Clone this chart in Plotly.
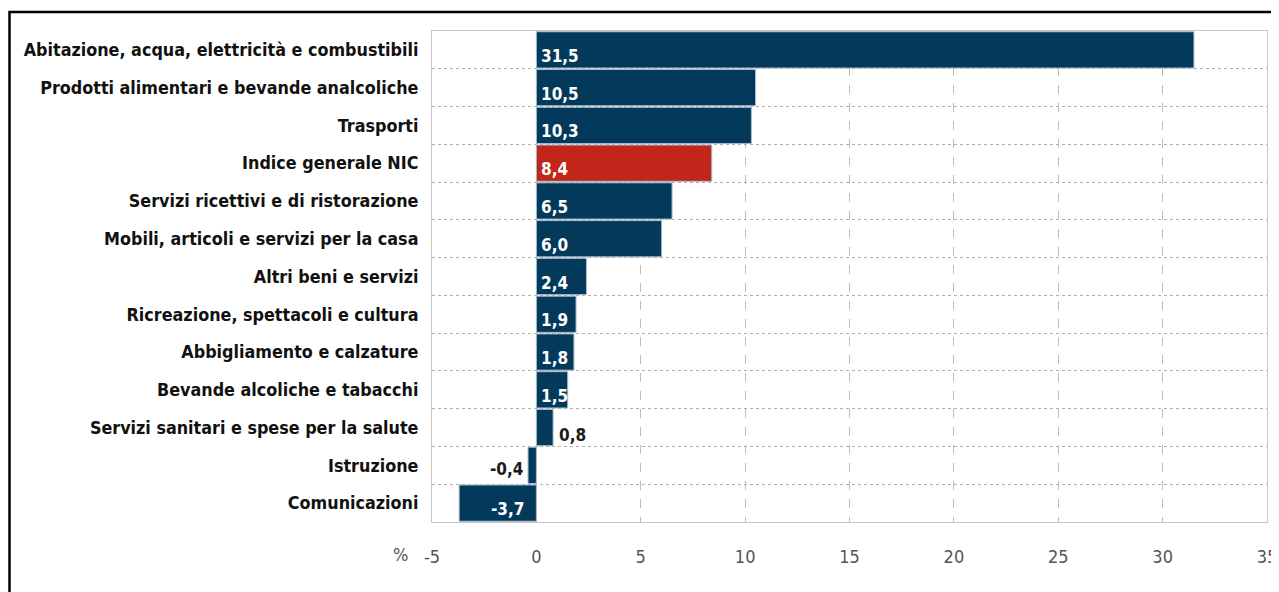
import plotly.graph_objects as go

categories = [
    "Abitazione, acqua, elettricità e combustibili",
    "Prodotti alimentari e bevande analcoliche",
    "Trasporti",
    "Indice generale NIC",
    "Servizi ricettivi e di ristorazione",
    "Mobili, articoli e servizi per la casa",
    "Altri beni e servizi",
    "Ricreazione, spettacoli e cultura",
    "Abbigliamento e calzature",
    "Bevande alcoliche e tabacchi",
    "Servizi sanitari e spese per la salute",
    "Istruzione",
    "Comunicazioni",
]
values = [31.5, 10.5, 10.3, 8.4, 6.5, 6.0, 2.4, 1.9, 1.8, 1.5, 0.8, -0.4, -3.7]
highlight = "Indice generale NIC"
x_ticks = [-5, 0, 5, 10, 15, 20, 25, 30, 35]

NAVY = "#033a5c"
RED = "#c0261a"
FONT = "DejaVu Sans Condensed, sans-serif"

# page body has an 8px margin; figure is sized so the plot lands where the reference has it
OFF = 8
W, H = 1279 - OFF, 592 - OFF
ML, MR, MT, MB = 432 - OFF, 12, 31 - OFF, 70

pos = list(range(len(categories)))
colors = [RED if c == highlight else NAVY for c in categories]

fig = go.Figure()
fig.add_trace(go.Bar(
    x=values, y=pos, orientation="h",
    marker=dict(color=colors, line=dict(color="#a9bccb", width=1)),
    hoverinfo="x+y",
))

VAL_SIZE = 17
annotations = []
for p, v in zip(pos, values):
    label = f"{v:.1f}".replace(".", ",")
    if abs(v) >= 1:
        if v >= 0:
            annotations.append(dict(x=0, y=p, text=label, xanchor="left", xshift=3, yshift=-6,
                                    showarrow=False,
                                    font=dict(family=FONT, size=VAL_SIZE, color="white", weight="bold")))
        else:
            annotations.append(dict(x=0, y=p, text=label, xanchor="right", xshift=-10, yshift=-6,
                                    showarrow=False,
                                    font=dict(family=FONT, size=VAL_SIZE, color="white", weight="bold")))
    else:
        if v >= 0:
            annotations.append(dict(x=v, y=p, text=label, xanchor="left", xshift=4, yshift=-7,
                                    showarrow=False,
                                    font=dict(family=FONT, size=VAL_SIZE, color="#1a1a1a", weight="bold")))
        else:
            annotations.append(dict(x=v, y=p, text=label, xanchor="right", xshift=-3, yshift=-4,
                                    showarrow=False,
                                    font=dict(family=FONT, size=VAL_SIZE, color="#1a1a1a", weight="bold")))

annotations.append(dict(xref="paper", yref="paper", x=-0.026, y=-0.067, text="%", xanchor="right",
                        yanchor="middle", showarrow=False, font=dict(family=FONT, size=18, color="#555555")))

pw = W - ML - MR
ph = H - MT - MB
frame = dict(type="rect", xref="paper", yref="paper",
             x0=(1.5 - ML) / pw, x1=(W + 10 - ML) / pw,
             y0=(ph - (H + 10 - MT)) / ph, y1=(ph - (4 - MT)) / ph,
             line=dict(color="black", width=2.5), fillcolor="rgba(0,0,0,0)", layer="above")

fig.update_layout(
    width=W, height=H,
    margin=dict(l=ML, r=MR, t=MT, b=MB, autoexpand=False),
    paper_bgcolor="white", plot_bgcolor="white",
    showlegend=False, bargap=0.04,
    annotations=annotations, shapes=[frame],
    xaxis=dict(range=[x_ticks[0], x_ticks[-1]], tickvals=x_ticks,
               ticktext=[str(t) for t in x_ticks],
               showgrid=True, gridcolor="#bdbdbd", griddash="dash", gridwidth=1, automargin=False,
               zeroline=False, showline=True, mirror=True, linecolor="#c6c6c6", linewidth=1,
               ticks="outside", ticklen=18, tickcolor="rgba(0,0,0,0)",
               tickfont=dict(family=FONT, size=18, color="#555555")),
    yaxis=dict(range=[len(categories) - 0.5, -0.5], tickvals=pos, ticktext=categories,
               showgrid=False, zeroline=False, automargin=False,
               showline=True, mirror=True, linecolor="#c6c6c6", linewidth=1,
               ticks="outside", ticklen=9, tickcolor="rgba(0,0,0,0)",
               tickfont=dict(family=FONT, size=17.8, color="#111111", weight="bold"),
               minor=dict(tick0=0.5, dtick=1, showgrid=True, gridcolor="#b0b0b0", griddash="dot",
                          gridwidth=1, ticks="")),
)

fig.write_html("out.html")
